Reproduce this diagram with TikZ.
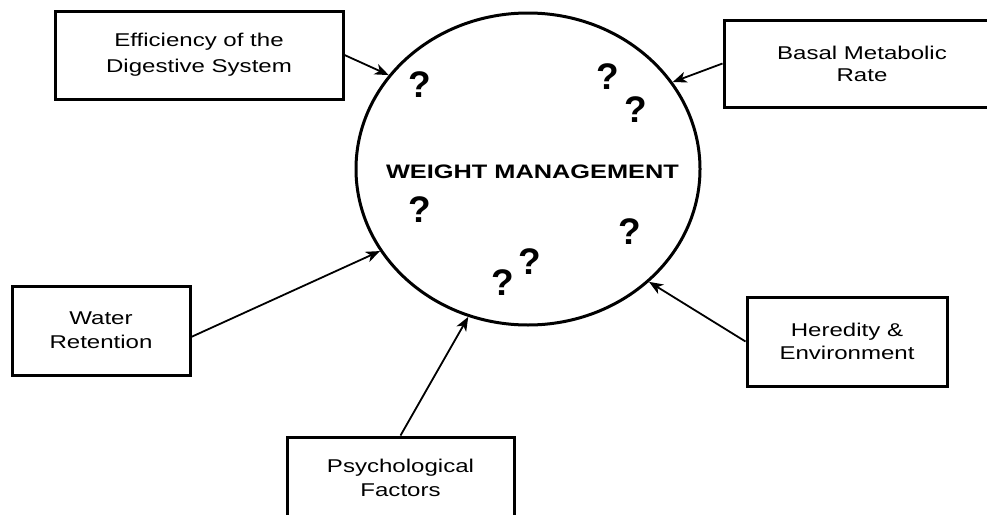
\documentclass[tikz,border=0pt]{standalone}
\usepackage{fontspec}
\usetikzlibrary{arrows.meta,shapes.geometric}
\newfontfamily\boxfont{Liberation Sans}[FakeStretch=1.3]
\newfontfamily\qfont{Liberation Sans}
\begin{document}
\begin{tikzpicture}[x=1pt,y=-1pt]
\tikzstyle{factor}=[draw,line width=3pt,align=center,inner sep=0pt,font=\boxfont\fontsize{18.5}{24}\selectfont]
\tikzstyle{hub}=[draw,ellipse,line width=3pt,minimum width=344,minimum height=312,inner sep=0pt]
\tikzstyle{influence}=[line width=1.8pt,-{Stealth[length=14pt,width=11pt,inset=4pt]}]
\tikzstyle{query}=[inner sep=0pt,font=\qfont\bfseries\fontsize{37}{37}\selectfont]
\useasboundingbox (0,0) rectangle (987,514);
% the five factors
\node[factor,minimum width=288,minimum height=88,font=\boxfont\fontsize{18.5}{26}\selectfont] (eff) at (199,55) {Efficiency of the\\Digestive System};
\node[factor,minimum width=276,minimum height=87,font=\boxfont\fontsize{18.5}{22}\selectfont] (bmr) at (862,63.5) {Basal Metabolic\\Rate};
\node[factor,minimum width=178,minimum height=89] (water) at (101,330.5) {Water\\Retention};
\node[factor,minimum width=200,minimum height=89,font=\boxfont\fontsize{18.5}{23}\selectfont] (hered) at (847,341.5) {Heredity \&\\Environment};
\node[factor,minimum width=227,minimum height=82] (psych) at (400.5,478) {Psychological\\Factors};
% centre
\node[hub] (wm) at (528,169) {};
\node[inner sep=0pt,font=\boxfont\bfseries\fontsize{19.5}{20}\selectfont] (title) at (532.5,172) {WEIGHT MANAGEMENT};
\node[query] (q1) at (420,85) {?};
\node[query] (q2) at (608,77) {?};
\node[query] (q3) at (636,110) {?};
\node[query] (q4) at (420,210) {?};
\node[query] (q5) at (630,232) {?};
\node[query] (q6) at (530,262) {?};
\node[query] (q7) at (503,283) {?};
% arrows
\draw[influence] (eff.east) -- (wm.146);
\draw[influence] (bmr.west) -- (wm.31);
\draw[influence] (water.-4) -- (wm.209);
\draw[influence] (hered.west) -- (wm.317);
\draw[influence] (psych.north) -- (wm.248);
\end{tikzpicture}
\end{document}
